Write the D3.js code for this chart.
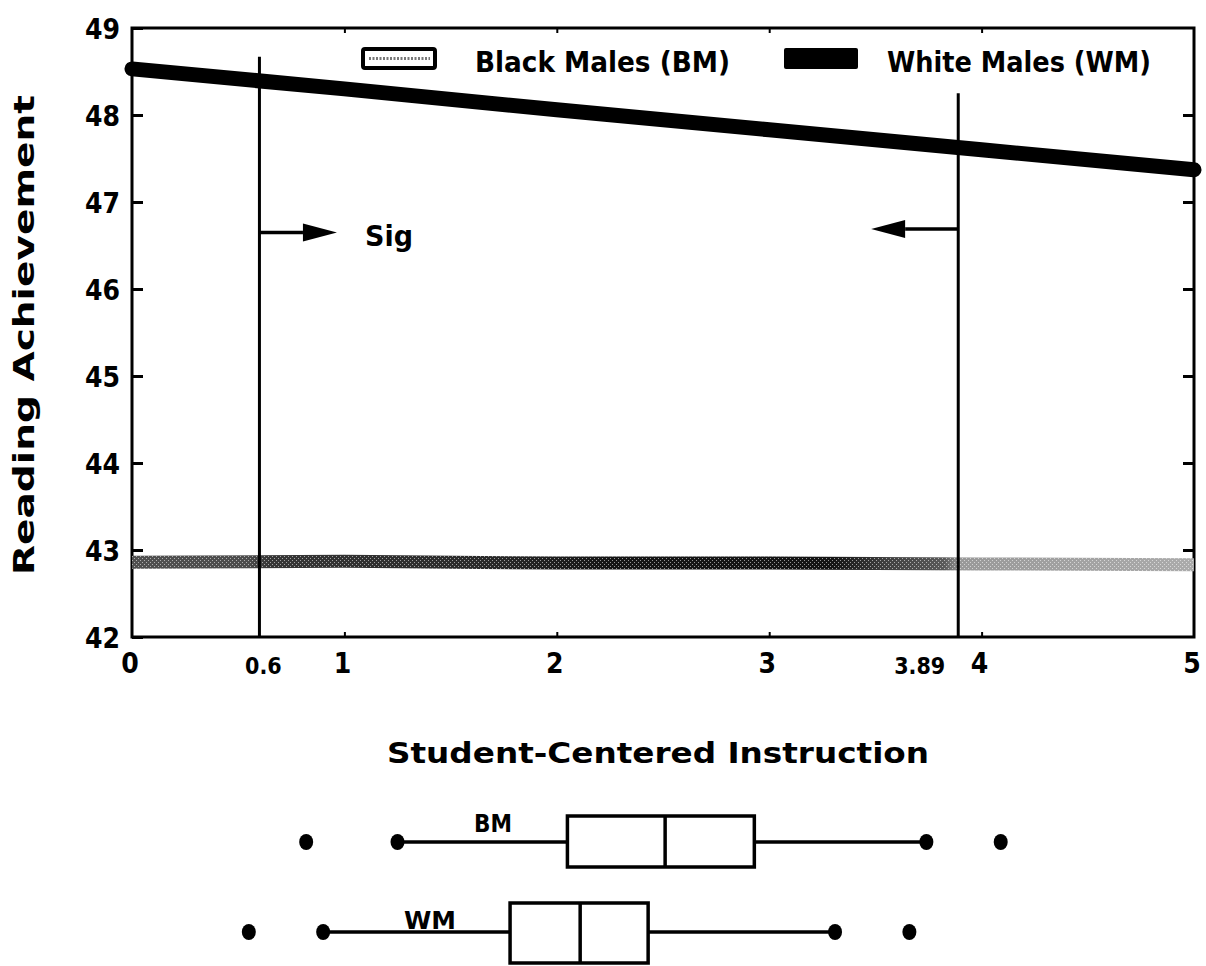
<!DOCTYPE html>
<html>
<head>
<meta charset="utf-8">
<script src="https://cdn.jsdelivr.net/npm/d3@7"></script>
<style>
  html, body { margin: 0; padding: 0; background: #fff; }
  svg { display: block; }
  text { font-family: 'DejaVu Sans Condensed', 'Liberation Sans Narrow', 'DejaVu Sans', sans-serif; font-weight: bold; fill: #000; }
</style>
</head>
<body>
<svg id="chart" width="1206" height="966"></svg>
<script>
// Student-centered instruction (x) vs. predicted reading achievement (y)
const xPoints = [0, 1, 2, 3, 4, 5];
const whiteMales = [48.53, 48.30, 48.06, 47.83, 47.60, 47.37];
const blackMales = [42.86, 42.87, 42.85, 42.85, 42.84, 42.83];

const yTicks = [42, 43, 44, 45, 46, 47, 48, 49];
const xTicks = [0, 1, 2, 3, 4, 5];
const xMarks = [0.6, 3.89];           // region-of-significance bounds
const markTops = [48.67, 48.25];      // where each bound line starts
const arrowY = [46.65, 46.69];
const arrowTips = [0.965, 3.48];

// Box plots of the predictor by group
const boxGroups = ["BM", "WM"];
const boxOutLo = [0.82, 0.55];
const boxWhiskLo = [1.25, 0.90];
const boxQ1 = [2.05, 1.78];
const boxMedian = [2.51, 2.11];
const boxQ3 = [2.93, 2.43];
const boxWhiskHi = [3.74, 3.31];
const boxOutHi = [4.09, 3.66];

const svg = d3.select("#chart");
const pL = 132, pR = 1194, pT = 28, pB = 637;
const x = d3.scaleLinear().domain([0, 5]).range([pL, pR]);
const y = d3.scaleLinear().domain([42, 49]).range([pB, pT]);

const defs = svg.append("defs");
// shading for the Black Males line: darkest through the middle, pale at the right
const grad = defs.append("linearGradient").attr("id", "bmShade")
  .attr("gradientUnits", "userSpaceOnUse")
  .attr("x1", x(0)).attr("x2", x(5)).attr("y1", 0).attr("y2", 0);
[[0, "#505050"], [0.11, "#4c4c4c"], [0.13, "#363636"], [0.33, "#2a2a2a"], [0.45, "#151515"],
 [0.66, "#141414"], [0.71, "#404040"], [0.765, "#5a5a5a"], [0.78, "#999"], [1, "#ababab"]]
  .forEach(([o, c]) => grad.append("stop").attr("offset", o).attr("stop-color", c));
// speckle texture laid over the shading
const pat = defs.append("pattern").attr("id", "speckle").attr("patternUnits", "userSpaceOnUse")
  .attr("width", 4).attr("height", 4);
pat.append("rect").attr("x", 0).attr("y", 0).attr("width", 1).attr("height", 1).attr("fill", "#fff");
pat.append("rect").attr("x", 2).attr("y", 2).attr("width", 1).attr("height", 1).attr("fill", "#fff");

// frame
svg.append("rect").attr("x", pL).attr("y", pT).attr("width", pR - pL).attr("height", pB - pT)
  .attr("fill", "none").attr("stroke", "#000").attr("stroke-width", 3);

// y axis: inward ticks on the left, labels outside
const yAxis = svg.append("g").attr("transform", `translate(${pL},0)`)
  .call(d3.axisLeft(y).tickValues(yTicks).tickFormat(d3.format("d")).tickSize(-11).tickSizeOuter(0).tickPadding(12));
yAxis.select(".domain").remove();
yAxis.selectAll(".tick line").attr("stroke", "#000").attr("stroke-width", 3);
yAxis.selectAll(".tick text").attr("font-size", 28).attr("dy", "0.36em")
  .style("font-family", "'DejaVu Sans Condensed','DejaVu Sans',sans-serif").style("font-weight", "bold");

// mirrored ticks on the right edge
const yAxisR = svg.append("g").attr("transform", `translate(${pR},0)`)
  .call(d3.axisRight(y).tickValues(yTicks.slice(1, -1)).tickSize(-11).tickSizeOuter(0).tickFormat(""));
yAxisR.select(".domain").remove();
yAxisR.selectAll(".tick line").attr("stroke", "#000").attr("stroke-width", 3);

// small x ticks on bottom and top
const xInner = xTicks.slice(1, -1);
const xAxisB = svg.append("g").attr("transform", `translate(0,${pB})`)
  .call(d3.axisBottom(x).tickValues(xInner).tickSize(-5).tickSizeOuter(0).tickFormat(""));
xAxisB.select(".domain").remove();
xAxisB.selectAll(".tick line").attr("stroke", "#000").attr("stroke-width", 2);
const xAxisT = svg.append("g").attr("transform", `translate(0,${pT})`)
  .call(d3.axisTop(x).tickValues(xInner).tickSize(-5).tickSizeOuter(0).tickFormat(""));
xAxisT.select(".domain").remove();
xAxisT.selectAll(".tick line").attr("stroke", "#000").attr("stroke-width", 2);

// x labels
svg.append("g").selectAll("text").data(xTicks).join("text")
  .attr("x", d => x(d) - 2).attr("y", 673).attr("text-anchor", "middle")
  .attr("font-size", 28).text(d => d);
svg.append("text").attr("x", x(xMarks[0]) + 4).attr("y", 674).attr("text-anchor", "middle")
  .attr("font-size", 23).text(xMarks[0]);
svg.append("text").attr("x", x(xMarks[1]) - 13).attr("y", 674).attr("text-anchor", "end")
  .attr("font-size", 23).text(xMarks[1]);

// lines
const line = d3.line().x((d, i) => x(xPoints[i])).y(d => y(d));
svg.append("path").datum(blackMales).attr("d", line)
  .attr("fill", "none").attr("stroke", "url(#bmShade)").attr("stroke-width", 13);
svg.append("path").datum(blackMales).attr("d", line)
  .attr("fill", "none").attr("stroke", "url(#speckle)").attr("stroke-width", 13).attr("opacity", 0.55);
svg.append("path").datum(whiteMales).attr("d", line)
  .attr("fill", "none").attr("stroke", "#000").attr("stroke-width", 15).attr("stroke-linecap", "round");

// significance bounds
svg.append("g").selectAll("line").data(xMarks).join("line")
  .attr("x1", d => x(d)).attr("x2", d => x(d))
  .attr("y1", (d, i) => y(markTops[i])).attr("y2", pB)
  .attr("stroke", "#000").attr("stroke-width", 3);

// arrows pointing into the significant region
xMarks.forEach((m, i) => {
  const x0 = x(m), x1 = x(arrowTips[i]), yy = y(arrowY[i]);
  const dir = Math.sign(x1 - x0);
  const base = x1 - dir * 34;
  svg.append("line").attr("x1", x0).attr("x2", base).attr("y1", yy).attr("y2", yy)
    .attr("stroke", "#000").attr("stroke-width", 3.5);
  svg.append("path").attr("d", `M${x1},${yy} L${base},${yy - 9} L${base},${yy + 9} Z`).attr("fill", "#000");
});
svg.append("text").attr("x", 365).attr("y", 246).attr("font-size", 28)
  .attr("textLength", 48).attr("lengthAdjust", "spacingAndGlyphs").text("Sig");

// legend
svg.append("rect").attr("x", 363).attr("y", 49).attr("width", 72).attr("height", 19).attr("rx", 2)
  .attr("fill", "#fff").attr("stroke", "#000").attr("stroke-width", 4);
svg.append("line").attr("x1", 369).attr("x2", 430).attr("y1", 58.5).attr("y2", 58.5)
  .attr("stroke", "#777").attr("stroke-width", 3).attr("stroke-dasharray", "2,1.5");
svg.append("text").attr("x", 475).attr("y", 72).attr("font-size", 29)
  .attr("textLength", 255).attr("lengthAdjust", "spacingAndGlyphs").text("Black Males (BM)");
svg.append("rect").attr("x", 784).attr("y", 48).attr("width", 74).attr("height", 21).attr("rx", 2).attr("fill", "#000");
svg.append("text").attr("x", 887).attr("y", 72).attr("font-size", 29)
  .attr("textLength", 264).attr("lengthAdjust", "spacingAndGlyphs").text("White Males (WM)");

// axis titles
svg.append("text").attr("transform", "translate(34,335) rotate(-90)").attr("text-anchor", "middle")
  .attr("font-size", 29).attr("textLength", 480).attr("lengthAdjust", "spacingAndGlyphs").text("Reading Achievement");
svg.append("text").attr("x", 387).attr("y", 763).attr("font-size", 28)
  .attr("textLength", 542).attr("lengthAdjust", "spacingAndGlyphs").text("Student-Centered Instruction");

// box plots
const rowY = [842, 932];
const boxTop = [816, 903];
const boxBot = [867, 963];
const labelX = [474, 404];
const labelY = [832, 929];
boxGroups.forEach((g, i) => {
  const G = svg.append("g");
  G.append("line").attr("x1", x(boxWhiskLo[i])).attr("x2", x(boxQ1[i])).attr("y1", rowY[i]).attr("y2", rowY[i])
    .attr("stroke", "#000").attr("stroke-width", 3.5);
  G.append("line").attr("x1", x(boxQ3[i])).attr("x2", x(boxWhiskHi[i])).attr("y1", rowY[i]).attr("y2", rowY[i])
    .attr("stroke", "#000").attr("stroke-width", 3.5);
  G.append("rect").attr("x", x(boxQ1[i])).attr("y", boxTop[i])
    .attr("width", x(boxQ3[i]) - x(boxQ1[i])).attr("height", boxBot[i] - boxTop[i])
    .attr("fill", "#fff").attr("stroke", "#000").attr("stroke-width", 3.5);
  G.append("line").attr("x1", x(boxMedian[i])).attr("x2", x(boxMedian[i]))
    .attr("y1", boxTop[i]).attr("y2", boxBot[i]).attr("stroke", "#000").attr("stroke-width", 3.5);
  G.selectAll("ellipse").data([boxOutLo[i], boxWhiskLo[i], boxWhiskHi[i], boxOutHi[i]]).join("ellipse")
    .attr("cx", d => x(d)).attr("cy", rowY[i]).attr("rx", 7).attr("ry", 8).attr("fill", "#000");
  G.append("text").attr("x", labelX[i]).attr("y", labelY[i]).attr("font-size", 24)
    .attr("textLength", i === 0 ? 38 : 52).attr("lengthAdjust", "spacingAndGlyphs").text(g);
});
</script>
</body>
</html>
